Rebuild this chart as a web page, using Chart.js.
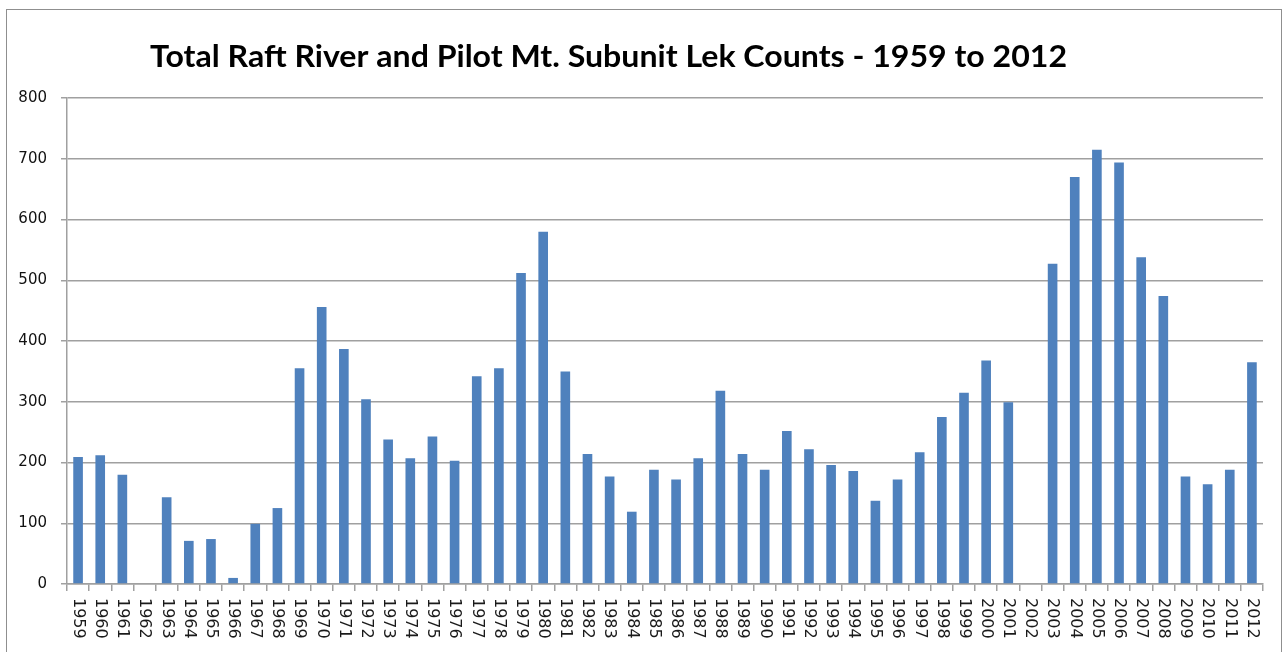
<!DOCTYPE html>
<html>
<head>
<meta charset="utf-8">
<script src="https://cdn.jsdelivr.net/npm/chart.js@4"></script>
<style>
  html, body { margin: 0; padding: 0; background: #fff; }
  #frame {
    position: absolute; left: 6px; top: 9px; width: 1276px; height: 700px;
    border: 1.5px solid #8f8f8f; box-sizing: border-box;
  }
  #chart { position: absolute; left: 0; top: 0; }
</style>
</head>
<body>
<div id="frame"></div>
<canvas id="chart" width="1284" height="652"></canvas>
<script>
// years on the x axis
var years = ['1959','1960','1961','1962','1963','1964','1965','1966','1967','1968',
  '1969','1970','1971','1972','1973','1974','1975','1976','1977','1978',
  '1979','1980','1981','1982','1983','1984','1985','1986','1987','1988',
  '1989','1990','1991','1992','1993','1994','1995','1996','1997','1998',
  '1999','2000','2001','2002','2003','2004','2005','2006','2007','2008',
  '2009','2010','2011','2012'];

// lek counts
var lekCounts = [209, 212, 180, 0, 143, 71, 74, 10, 99, 125,
  355, 456, 387, 304, 238, 207, 243, 203, 342, 355,
  512, 580, 350, 214, 177, 119, 188, 172, 207, 318,
  214, 188, 252, 222, 196, 186, 137, 172, 217, 275,
  315, 368, 299, 0, 527, 670, 715, 694, 538, 474,
  177, 164, 188, 365];

var yTicks = [0, 100, 200, 300, 400, 500, 600, 700, 800];

var titleText = 'Total Raft River and Pilot Mt. Subunit Lek Counts - 1959 to 2012';

var gridGray = '#a0a0a0';

// title is not centred on the canvas in the original, so draw it by hand
var titlePlugin = {
  id: 'excelTitle',
  afterDraw: function (chart) {
    var ctx = chart.ctx;
    ctx.save();
    ctx.font = 'bold 31px Lato';
    ctx.fillStyle = '#000';
    ctx.textBaseline = 'alphabetic';
    var w = ctx.measureText(titleText).width;
    ctx.translate(150, 67);
    ctx.scale(917 / w, 1);
    ctx.fillText(titleText, 0, 0);
    ctx.restore();
  }
};

// year labels read top to bottom (rotated clockwise)
var yearLabels = {
  id: 'yearLabels',
  afterDraw: function (chart) {
    var ctx = chart.ctx;
    var xs = chart.scales.x;
    ctx.save();
    ctx.font = '16px "DejaVu Sans"';
    ctx.fillStyle = '#1a1a1a';
    ctx.textAlign = 'left';
    ctx.textBaseline = 'middle';
    years.forEach(function (y, i) {
      ctx.save();
      ctx.translate(xs.getPixelForValue(i), 598);
      ctx.rotate(Math.PI / 2);
      ctx.fillText(y, 0, 0);
      ctx.restore();
    });
    ctx.restore();
  }
};

new Chart(document.getElementById('chart'), {
  type: 'bar',
  data: {
    labels: years,
    datasets: [{
      data: lekCounts,
      backgroundColor: '#4F81BD',
      borderWidth: 0,
      barPercentage: 0.435,
      categoryPercentage: 1.0
    }]
  },
  options: {
    responsive: false,
    animation: false,
    events: [],
    layout: { padding: { left: 0, top: 98, right: 21, bottom: 0 } },
    plugins: {
      legend: { display: false },
      title: { display: false },
      tooltip: { enabled: false }
    },
    scales: {
      x: {
        afterFit: function (s) { s.height = 68; },
        grid: {
          offset: true,
          drawOnChartArea: false,
          drawTicks: true,
          tickLength: 7,
          color: gridGray,
          lineWidth: 1.5
        },
        border: { display: true, color: gridGray, width: 1.5 },
        ticks: { display: false }
      },
      y: {
        min: 0,
        max: 800,
        afterFit: function (s) { s.width = 67; },
        afterBuildTicks: function (s) {
          s.ticks = yTicks.map(function (v) { return { value: v }; });
        },
        grid: {
          color: gridGray,
          lineWidth: 1.5,
          drawTicks: true,
          tickLength: 6
        },
        border: { display: true, color: gridGray, width: 1.5 },
        ticks: {
          padding: 14,
          color: '#111',
          font: { family: 'DejaVu Sans', size: 15 }
        }
      }
    }
  },
  plugins: [titlePlugin, yearLabels]
});
</script>
</body>
</html>
